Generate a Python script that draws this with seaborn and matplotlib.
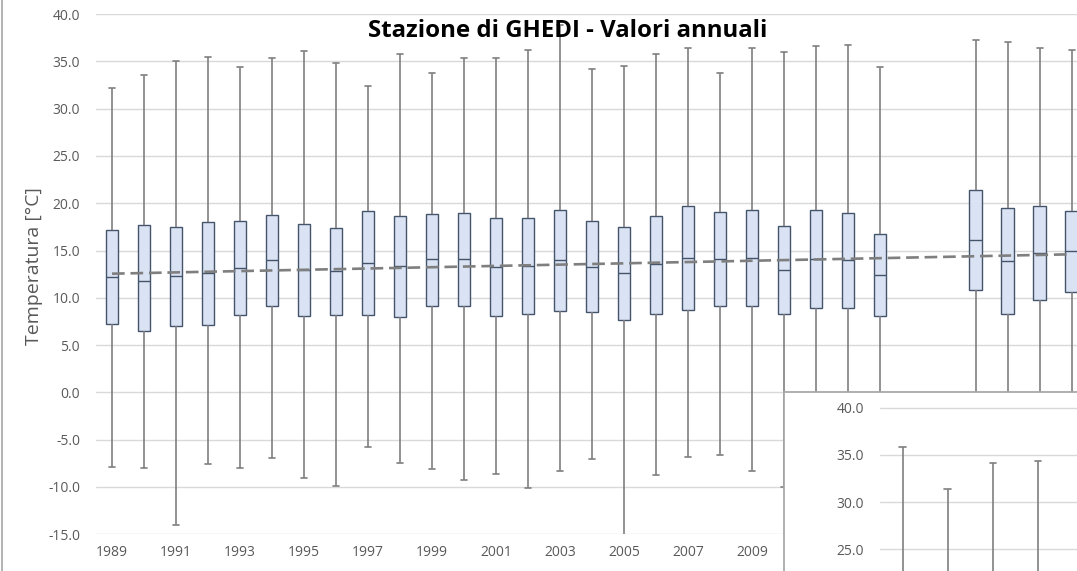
import pandas as pd
import seaborn as sns
import matplotlib.pyplot as plt
from matplotlib.lines import Line2D
from matplotlib.ticker import FormatStrFormatter

# annual stats (min, q1, median, q3, max); 2014-2015 missing
years = [1989, 1990, 1991, 1992, 1993, 1994, 1995, 1996, 1997, 1998,
         1999, 2000, 2001, 2002, 2003, 2004, 2005, 2006, 2007, 2008,
         2009, 2010, 2011, 2012, 2013, 2016, 2017, 2018, 2019]
t_min = [-7.85, -8.0, -14.0, -7.57, -8.0, -6.97, -9.0, -9.93, -5.8, -7.43,
         -8.13, -9.3, -8.63, -10.1, -8.34, -7.0, -15.2, -8.7, -6.8, -6.6,
         -8.34, -9.97, -7.5, -9.0, -8.0, -5.5, -6.0, -6.5, -5.0]
t_q1 = [7.26, 6.45, 7.05, 7.15, 8.21, 9.17, 8.04, 8.2, 8.15, 7.97,
        9.17, 9.1, 8.04, 8.32, 8.64, 8.47, 7.65, 8.32, 8.68, 9.13,
        9.17, 8.25, 8.92, 8.92, 8.1, 10.83, 8.32, 9.74, 10.58]
t_med = [12.23, 11.81, 12.34, 12.59, 13.15, 14.0, 12.91, 12.79, 13.71, 13.33,
         14.07, 14.07, 13.26, 13.37, 14.0, 13.29, 12.59, 13.55, 14.24, 14.1,
         14.24, 12.94, 14.07, 13.97, 12.41, 16.12, 13.93, 14.77, 14.92]
t_q3 = [17.14, 17.7, 17.52, 18.0, 18.13, 18.8, 17.84, 17.35, 19.22, 18.66,
        18.87, 19.0, 18.48, 18.41, 19.32, 18.16, 17.49, 18.66, 19.68, 19.08,
        19.26, 17.6, 19.26, 19.0, 16.78, 21.41, 19.5, 19.68, 19.22]
t_max = [32.2, 33.5, 35.0, 35.5, 34.4, 35.4, 36.1, 34.8, 32.4, 35.8,
         33.8, 35.4, 35.3, 36.2, 38.8, 34.2, 34.5, 35.8, 36.4, 33.8,
         36.4, 36.0, 36.6, 36.7, 34.4, 37.25, 37.0, 36.4, 36.2]

# linear trend (dashed line), end values
trend_years = [1989, 2019]
trend_temps = [12.55, 14.6]

# visible x labels (the rest sit under the pasted chart)
year_labels = [1989, 1991, 1993, 1995, 1997, 1999, 2001, 2003, 2005, 2007, 2009]

# piece of a second chart pasted over the bottom-right corner
inset_cats = ["1", "2", "3", "4"]
inset_min = [0.0, 0.0, 0.0, 0.0]
inset_q1 = [10.0, 9.0, 10.0, 10.0]
inset_med = [15.0, 14.0, 15.0, 15.0]
inset_q3 = [21.0, 19.5, 20.5, 21.0]
inset_max = [35.8, 31.4, 34.2, 34.4]

rows = []
for y, a, b, c, d, e in zip(years, t_min, t_q1, t_med, t_q3, t_max):
    for v in (a, b, c, d, e):
        rows.append({"Anno": y, "Temperatura": v})
df = pd.DataFrame(rows)

rows = []
for k, a, b, c, d, e in zip(inset_cats, inset_min, inset_q1, inset_med, inset_q3, inset_max):
    for v in (a, b, c, d, e):
        rows.append({"Serie": k, "Temperatura": v})
df_in = pd.DataFrame(rows)

sns.set_theme(style="white")
plt.rcParams['font.family'] = ['Open Sans', 'DejaVu Sans']
plt.rcParams['axes.unicode_minus'] = False

W, H = 1077, 571
fig = plt.figure(figsize=(W / 100, H / 100), dpi=100)

box_kws = dict(whis=(0, 100), color="#DAE3F3", saturation=1, linecolor="#44546A",
               linewidth=1.0, fliersize=0,
               whiskerprops=dict(color="#7F7F7F", linewidth=1.2),
               capprops=dict(color="#7F7F7F", linewidth=1.2))

ax = fig.add_axes([96 / W, (H - 534.3) / H, (W - 96) / W, 520.3 / H])
sns.boxplot(data=df, x="Anno", y="Temperatura", native_scale=True, width=0.4, ax=ax, **box_kws)
sns.lineplot(x=trend_years, y=trend_temps, ax=ax, color="#7F7F7F", linewidth=1.9, zorder=5)
ax.lines[-1].set_dashes((4.8, 2.2))
ax.set_xlim(1988.5, 2019.16)
ax.set_ylim(-15, 40)
ax.set_yticks(range(-15, 41, 5))
ax.yaxis.set_major_formatter(FormatStrFormatter('%.1f'))
ax.set_xticks(year_labels)
ax.yaxis.grid(True, color="#D9D9D9", linewidth=1.0)
ax.set_axisbelow(True)
for s in ax.spines.values():
    s.set_visible(False)
ax.tick_params(axis="y", length=0, pad=11.5, labelsize=10, labelcolor="#595959")
ax.tick_params(axis="x", length=0, pad=8, labelsize=10, labelcolor="#595959")
ax.set_xlabel("")
ax.set_ylabel("Temperatura [°C]", fontsize=14, color="#595959", va="center")
ax.yaxis.set_label_coords(-0.063, 0.516)
ax.set_title("Stazione di GHEDI - Valori annuali", y=0.968, va="center", pad=0,
             fontsize=17.3, fontweight="bold", color="black")
ax.title.set_x((568 - 96) / (W - 96))

# white panel of the overlapping chart
pan = fig.add_axes([784 / W, 0, (W - 784) / W, 179 / H])
pan.set_facecolor("white")
pan.set_xticks([])
pan.set_yticks([])
pan.spines["right"].set_visible(False)
pan.spines["bottom"].set_visible(False)
pan.spines["left"].set_color("#A6A6A6")
pan.spines["top"].set_color("#A6A6A6")

ax2 = fig.add_axes([880 / W, 0, (W - 880) / W, 179 / H])
ax2.patch.set_alpha(0)
sns.boxplot(data=df_in, x="Serie", y="Temperatura", width=0.29, ax=ax2, **box_kws)
ax2.set_xlim(-0.504, 3.87)
ax2.set_ylim(22.72, 41.66)
ax2.set_yticks([25, 30, 35, 40])
ax2.yaxis.set_major_formatter(FormatStrFormatter('%.1f'))
ax2.set_xticks([])
ax2.yaxis.grid(True, color="#D9D9D9", linewidth=1.0)
ax2.set_axisbelow(True)
for s in ax2.spines.values():
    s.set_visible(False)
ax2.tick_params(axis="y", length=0, pad=11.5, labelsize=10, labelcolor="#595959")
ax2.set_xlabel("")
ax2.set_ylabel("")

# left frame line of the screenshot
fig.add_artist(Line2D([0.002, 0.002], [0, 1], transform=fig.transFigure, color="#A6A6A6", linewidth=1.2))

fig.savefig("out.png", dpi=100)
